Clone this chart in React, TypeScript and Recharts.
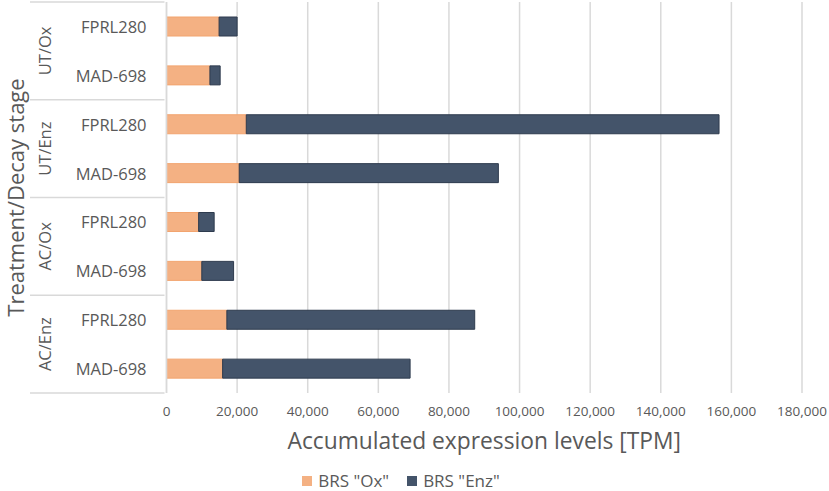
import React from 'react';
import {
  BarChart,
  Bar,
  XAxis,
  YAxis,
  CartesianGrid,
  Legend,
} from 'recharts';

const groups = ['UT/Ox', 'UT/Enz', 'AC/Ox', 'AC/Enz'];
const strains = ['FPRL280', 'MAD-698'];
const oxValues = [14900, 12300, 22600, 20600, 9100, 10000, 17100, 15900];
const enzValues = [5100, 2900, 133900, 73400, 4400, 9000, 70200, 53100];
const xTicks = [0, 20000, 40000, 60000, 80000, 100000, 120000, 140000, 160000, 180000];
const seriesOrder = ['BRS "Ox"', 'BRS "Enz"'];

const data = groups.flatMap((g, gi) =>
  strains.map((s, si) => {
    const i = gi * strains.length + si;
    return { key: `${g}|${s}`, group: g, strain: s, ox: oxValues[i], enz: enzValues[i] };
  })
);

const W = 829;
const H = 491;
const TOP = 2;
const XAXIS_H = 62;
const LEGEND_H = 36;
const PLOT_BOTTOM = H - XAXIS_H - LEGEND_H;
const BAND = (PLOT_BOTTOM - TOP) / data.length;
const FONT = '"Open Sans", sans-serif';
const TEXT = '#595959';
const LINE = '#d9d9d9';

const ORANGE = '#F4B183';
const NAVY = '#44546A';

function CategoryTick(props: any) {
  const { x, y, payload } = props;
  const idx = payload.index;
  const row = data[idx];
  const first = idx % strains.length === 0;
  const last = idx === data.length - 1;
  const midGroup = y + BAND / 2;
  return (
    <g>
      <text
        x={x - 18}
        y={y}
        textAnchor="end"
        dominantBaseline="central"
        fontSize={16.5}
        fontFamily={FONT}
        fill={TEXT}
      >
        {row.strain}
      </text>
      {first && (
        <>
          <line x1={30} x2={x} y1={y - BAND / 2} y2={y - BAND / 2} stroke={LINE} strokeWidth={1.5} />
          <text
            x={44}
            y={midGroup}
            transform={`rotate(-90 44 ${midGroup})`}
            textAnchor="middle"
            dominantBaseline="central"
            fontSize={16.5}
            fontFamily={FONT}
            fill={TEXT}
          >
            {row.group}
          </text>
        </>
      )}
      {last && (
        <line x1={30} x2={x} y1={y + BAND / 2} y2={y + BAND / 2} stroke={LINE} strokeWidth={1.5} />
      )}
    </g>
  );
}

function YTitle(props: any) {
  const { viewBox } = props;
  const cy = viewBox.y + viewBox.height / 2;
  return (
    <text
      x={24}
      y={cy}
      transform={`rotate(-90 24 ${cy})`}
      textAnchor="middle"
      fontSize={22}
      fontFamily={FONT}
      fill={TEXT}
    >
      Treatment/Decay stage
    </text>
  );
}

function XTitle(props: any) {
  const { viewBox } = props;
  return (
    <text
      x={viewBox.x + viewBox.width / 2}
      y={viewBox.y + 56}
      textAnchor="middle"
      fontSize={22.8}
      fontFamily={FONT}
      fill={TEXT}
    >
      Accumulated expression levels [TPM]
    </text>
  );
}

function LegendBox(props: any) {
  const items = [...(props.payload || [])].sort(
    (a: any, b: any) => seriesOrder.indexOf(a.value) - seriesOrder.indexOf(b.value)
  );
  return (
    <div
      style={{
        height: LEGEND_H,
        display: 'flex',
        justifyContent: 'center',
        alignItems: 'flex-end',
        gap: 18,
        fontFamily: FONT,
        fontSize: 17,
        lineHeight: '20px',
        color: TEXT,
      }}
    >
      {items.map((it: any) => (
        <span key={it.value} style={{ display: 'flex', alignItems: 'center', gap: 6 }}>
          <span style={{ width: 10, height: 10, background: it.color, display: 'inline-block' }} />
          {it.value}
        </span>
      ))}
    </div>
  );
}

export default function App() {
  return (
    <div style={{ position: 'absolute', left: 0, top: 0, width: W, height: H, background: '#fff' }}>
      <BarChart
        width={W}
        height={H}
        data={data}
        layout="vertical"
        margin={{ top: TOP, right: 27, left: 0, bottom: 0 }}
        barSize={19}
      >
        <CartesianGrid horizontal={false} stroke={LINE} strokeWidth={1.5} />
        <XAxis
          type="number"
          domain={[0, 180000]}
          ticks={xTicks}
          tickFormatter={(v: number) => v.toLocaleString('en-US')}
          axisLine={false}
          tickLine={false}
          tickSize={0}
          tickMargin={13}
          height={XAXIS_H}
          tick={{ fontSize: 13.5, fill: TEXT, fontFamily: FONT }}
          label={<XTitle />}
        />
        <YAxis
          type="category"
          dataKey="key"
          width={166.5}
          axisLine={{ stroke: LINE, strokeWidth: 1.5 }}
          tickLine={false}
          tickSize={0}
          interval={0}
          tick={<CategoryTick />}
          label={<YTitle />}
        />
        <Legend content={<LegendBox />} verticalAlign="bottom" height={LEGEND_H} />
        <Bar dataKey="ox" name={seriesOrder[0]} stackId="a" fill={ORANGE} stroke="#F2A46F" strokeWidth={1} isAnimationActive={false} />
        <Bar dataKey="enz" name={seriesOrder[1]} stackId="a" fill={NAVY} stroke="#2E3B4E" strokeWidth={1} isAnimationActive={false} />
      </BarChart>
    </div>
  );
}
